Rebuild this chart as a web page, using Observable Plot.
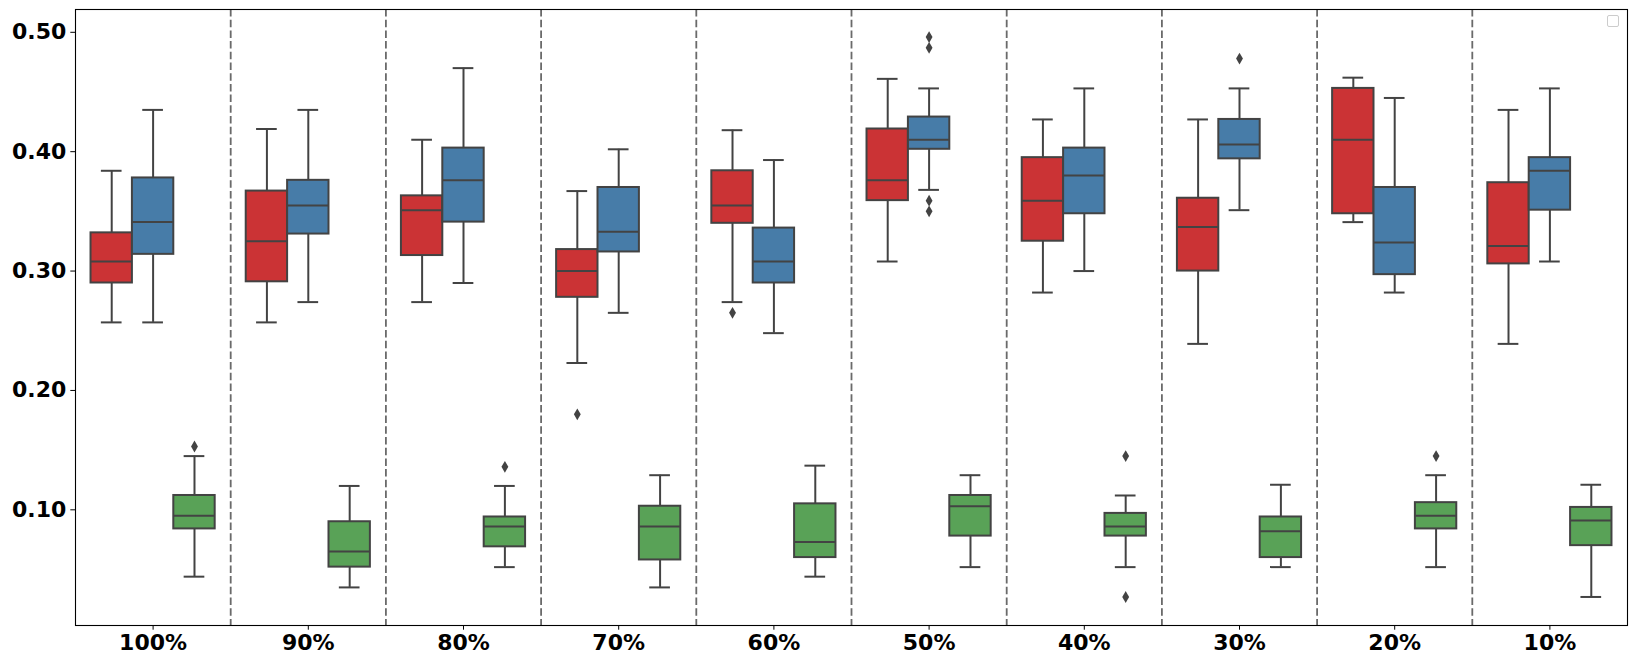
<!DOCTYPE html>
<html><head><meta charset="utf-8">
<script src="https://cdn.jsdelivr.net/npm/d3@7"></script>
<script src="https://cdn.jsdelivr.net/npm/@observablehq/plot@0.6"></script>
<style>
body{margin:0;background:#fff;}
#wrap{position:relative;width:1634px;height:665px;background:#fff;}
#legend{position:absolute;left:1607px;top:15px;width:10px;height:10px;border:1px solid #cccccc;border-radius:2px;background:#fff;}
</style></head><body><div id="wrap"><div id="chart"></div><div id="legend"></div></div>
<script>
const groups = ["100%","90%","80%","70%","60%","50%","40%","30%","20%","10%"];
const hues = ["A","B","C"];
const colors = ["#cb3335","#477ca8","#59a257"];
const yTicks = [0.1,0.2,0.3,0.4,0.5];

// red series
const redLo  = [0.257,0.257,0.274,0.223,0.274,0.308,0.282,0.239,0.341,0.239];
const redQ1  = [0.290,0.291,0.313,0.278,0.340,0.359,0.325,0.300,0.348,0.306];
const redMed = [0.308,0.325,0.351,0.300,0.355,0.376,0.359,0.337,0.410,0.321];
const redQ3  = [0.332,0.367,0.363,0.318,0.384,0.419,0.395,0.361,0.453,0.374];
const redHi  = [0.384,0.419,0.410,0.367,0.418,0.461,0.427,0.427,0.462,0.435];
// blue series
const blueLo  = [0.257,0.274,0.290,0.265,0.248,0.368,0.300,0.351,0.282,0.308];
const blueQ1  = [0.314,0.331,0.341,0.316,0.290,0.402,0.348,0.394,0.297,0.351];
const blueMed = [0.341,0.355,0.376,0.333,0.308,0.410,0.380,0.406,0.324,0.384];
const blueQ3  = [0.378,0.376,0.403,0.370,0.336,0.429,0.403,0.427,0.370,0.395];
const blueHi  = [0.435,0.435,0.470,0.402,0.393,0.453,0.453,0.453,0.445,0.453];
// green series
const greenLo  = [0.044,0.035,0.052,0.035,0.044,0.052,0.052,0.052,0.052,0.027];
const greenQ1  = [0.084,0.052,0.069,0.058,0.060,0.078,0.078,0.060,0.084,0.070];
const greenMed = [0.095,0.065,0.086,0.086,0.073,0.103,0.086,0.082,0.095,0.091];
const greenQ3  = [0.112,0.090,0.094,0.103,0.105,0.112,0.097,0.094,0.106,0.102];
const greenHi  = [0.145,0.120,0.120,0.129,0.137,0.129,0.112,0.121,0.129,0.121];
// outliers
const outGroup = ["100%","80%","70%","60%","50%","50%","50%","50%","40%","40%","30%","20%"];
const outHue   = [2,2,0,0,1,1,1,1,2,2,1,2];
const outValue = [0.153,0.136,0.180,0.265,0.496,0.487,0.359,0.350,0.145,0.027,0.478,0.145];

const series = [
  [redLo, redQ1, redMed, redQ3, redHi],
  [blueLo, blueQ1, blueMed, blueQ3, blueHi],
  [greenLo, greenQ1, greenMed, greenQ3, greenHi]
];
const boxW = 0.8 / hues.length;
const rows = [];
groups.forEach((g, gi) => {
  series.forEach((s, h) => {
    rows.push({group: g, h, x: gi + (h - (hues.length - 1) / 2) * boxW,
      lo: s[0][gi], q1: s[1][gi], med: s[2][gi], q3: s[3][gi], hi: s[4][gi]});
  });
});
const outliers = outValue.map((v, i) => ({
  x: groups.indexOf(outGroup[i]) + (outHue[i] - (hues.length - 1) / 2) * boxW,
  value: v
}));
const seps = groups.slice(1).map((g, i) => i + 0.5);
const gray = "#434343";
const lw = 2;

const chart = Plot.plot({
  width: 1634, height: 665,
  marginLeft: 75, marginRight: 7, marginTop: 9, marginBottom: 40,
  style: {fontFamily: "DejaVu Sans", fontSize: "22px", fontWeight: "bold", color: "black", background: "white"},
  x: {domain: [-0.5, groups.length - 0.5], label: null},
  y: {domain: [0.0031, 0.5191], label: null},
  marks: [
    Plot.ruleX(seps, {x: d => d, stroke: "#6a6a6a", strokeWidth: 1.8, strokeDasharray: "7.5,3.2"}),
    Plot.ruleX(rows, {x: "x", y1: "lo", y2: "q1", stroke: gray, strokeWidth: lw}),
    Plot.ruleX(rows, {x: "x", y1: "q3", y2: "hi", stroke: gray, strokeWidth: lw}),
    Plot.ruleY(rows, {y: "lo", x1: d => d.x - boxW / 4, x2: d => d.x + boxW / 4, stroke: gray, strokeWidth: lw}),
    Plot.ruleY(rows, {y: "hi", x1: d => d.x - boxW / 4, x2: d => d.x + boxW / 4, stroke: gray, strokeWidth: lw}),
    Plot.rect(rows, {x1: d => d.x - boxW / 2, x2: d => d.x + boxW / 2, y1: "q1", y2: "q3",
      fill: d => colors[d.h], stroke: gray, strokeWidth: lw}),
    Plot.ruleY(rows, {y: "med", x1: d => d.x - boxW / 2, x2: d => d.x + boxW / 2, stroke: gray, strokeWidth: lw}),
    Plot.dot(outliers, {x: "x", y: "value", symbol: "diamond", r: 3.6, fill: gray, stroke: "none"}),
    Plot.axisX({ticks: groups.map((g, i) => i), tickFormat: i => groups[i], tickSize: 4.7, tickPadding: 4, label: null}),
    Plot.axisY({ticks: yTicks, tickFormat: d3.format(".2f"), tickSize: 4.7, tickPadding: 4.5, label: null}),
    Plot.frame({stroke: "black", strokeWidth: 1.1})
  ]
});
document.getElementById("chart").appendChild(chart);
</script>
</body></html>
